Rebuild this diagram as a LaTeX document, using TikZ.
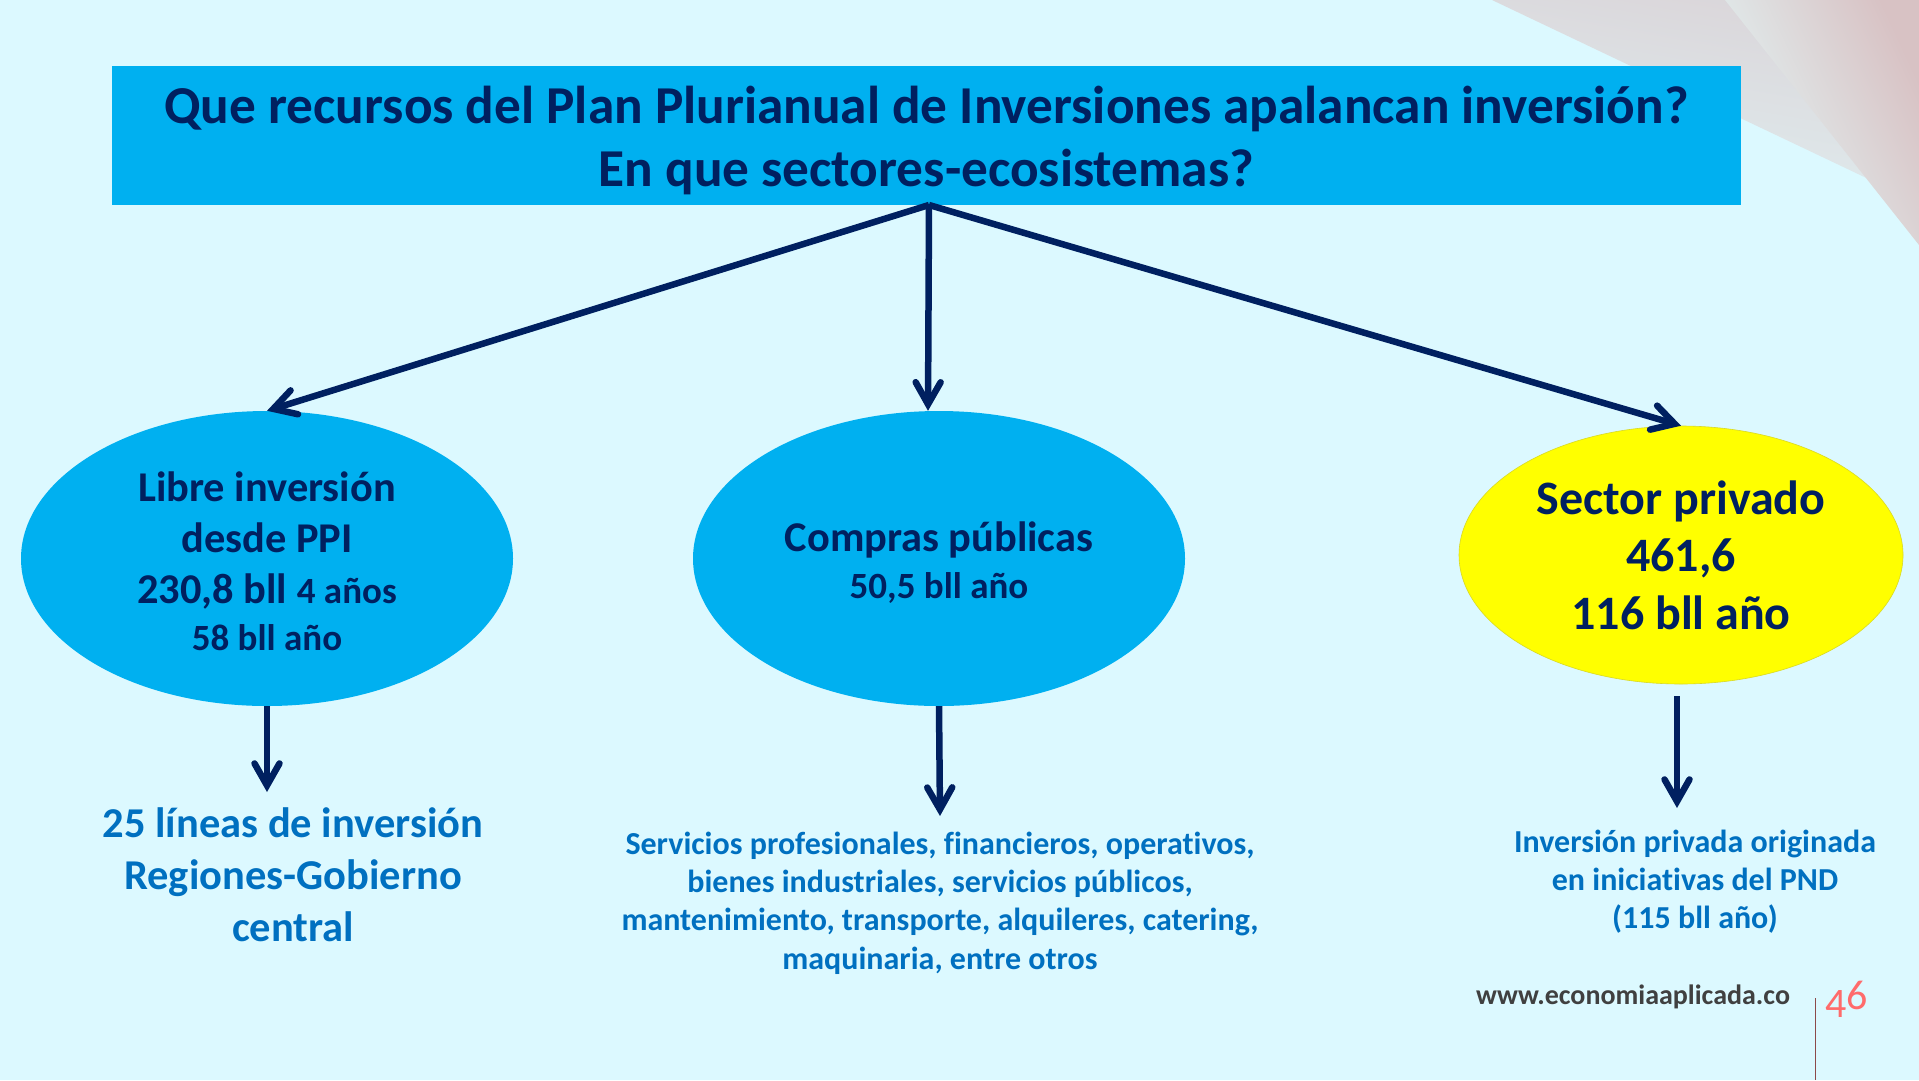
\documentclass[tikz,border=0pt]{standalone}
\usepackage{fontspec}
\setmainfont{Carlito}[Ligatures=NoCommon]
\usetikzlibrary{shapes.geometric,arrows.meta}
\definecolor{fondo}{HTML}{DCF9FF}
\definecolor{azul}{HTML}{00B0F0}
\definecolor{marino}{HTML}{002060}
\definecolor{medio}{HTML}{0070C0}
\definecolor{amarillo}{HTML}{FFFF00}
\definecolor{pagina}{HTML}{FF6B6B}
\definecolor{gris}{HTML}{404040}
\definecolor{rosa}{HTML}{DAD5D9}
\definecolor{claro}{HTML}{E0EEF0}
\definecolor{rojizo}{HTML}{D8C2C4}
\definecolor{palido}{HTML}{E3F7F7}
\definecolor{regla}{HTML}{8C4A4A}
\newcommand{\sz}[2]{\fontsize{#1}{#2}\selectfont}
\begin{document}
\begin{tikzpicture}[
x=1pt, y=-1pt,
header/.style={rectangle, fill=azul, minimum width=1629pt, minimum height=139pt, inner sep=0pt},
headertxt/.style={text=marino, font=\bfseries\sz{53.3}{63.5}, align=center, inner sep=0pt},
oval/.style={ellipse, fill=azul, minimum width=492pt, minimum height=295pt, inner sep=0pt},
ovaltxt/.style={text=marino, font=\bfseries\sz{42.4}{51}, align=center, inner sep=0pt},
ovalp/.style={ellipse, fill=amarillo, draw=amarillo!70!gray, line width=0.6pt, text=marino, font=\bfseries\sz{48}{57.5}, align=center, minimum width=444pt, minimum height=258pt, inner sep=0pt},
detailg/.style={text=medio, font=\bfseries\sz{42.5}{52}, align=center, inner sep=0pt},
detail/.style={text=medio, font=\bfseries\sz{32}{38.3}, align=center, inner sep=0pt},
flecha/.style={draw=marino, line width=6.5pt, -{Straight Barb[line cap=round, length=22pt, width=25pt, line width=6.5pt]}},
]
\useasboundingbox (0,0) rectangle (1919,1080);
\fill[fondo] (0,0) rectangle (1919,1080);
% esquina
\shade[left color=rosa, right color=claro, shading angle=-10] (1492,0) -- (1919,203) -- (1919,0) -- cycle;
\shade[left color=rojizo, right color=palido, shading angle=-65] (1725,0) -- (1919,245) -- (1919,0) -- cycle;

\node[header] (titulo) at (926.5,135.5) {};
\node[headertxt, yshift=-5pt] (titulotxt) at (titulo) {Que recursos del Plan Plurianual de Inversiones apalancan inversión?\\En que sectores-ecosistemas?};

\node[oval] (libre) at (267,558.5) {};
\node[ovaltxt, yshift=-2.5pt] (libretxt) at (libre) {Libre inversión\\desde PPI\\230,8 bll {\sz{37}{51}4 años}\\[-4pt]{\sz{37}{47}58 bll año}};
\node[oval] (compras) at (939,558.5) {};
\node[ovaltxt, yshift=-4.5pt] (comprastxt) at (compras) {Compras públicas\\[-4pt]{\sz{37}{48}50,5 bll año}};
\node[ovalp] (privado) at (1681,555) {Sector privado\\461,6\\116 bll año};

\node[detailg] (lineas) at (293,875) {25 líneas de inversión\\Regiones-Gobierno\\central};
\node[detail] (servicios) at (940,903) {Servicios profesionales, financieros, operativos,\\bienes industriales, servicios públicos,\\mantenimiento, transporte, alquileres, catering,\\maquinaria, entre otros};
\node[detail] (iniciativas) at (1695,881.5) {Inversión privada originada\\en iniciativas del PND\\(115 bll año)};

\node[text=gris, font=\bfseries\sz{28}{34}, inner sep=0pt] (web) at (1633,997) {www.economiaaplicada.co};
\node[text=pagina, font=\sz{42}{50}, inner sep=0pt, anchor=base west] (pag) at (1825,1017) {4\raisebox{8pt}{6}};

\coordinate (salida) at (929,205);
\coordinate (finl) at (267,792);
\coordinate (finc) at (940,816);
\coordinate (finp) at (1677,808);

\draw[flecha] (salida) -- (libre.north);
\draw[flecha] (salida) -- ([xshift=-11pt]compras.north);
\draw[flecha] (salida) -- (privado.north);
\draw[flecha] (libre.south) -- (finl);
\draw[flecha] (compras.south) -- (finc);
\draw[flecha] ([xshift=-4pt,yshift=-12pt]privado.south) -- (finp);
\draw[draw=regla, line width=1pt] (1815,998) -- (1815,1080);
\end{tikzpicture}
\end{document}
